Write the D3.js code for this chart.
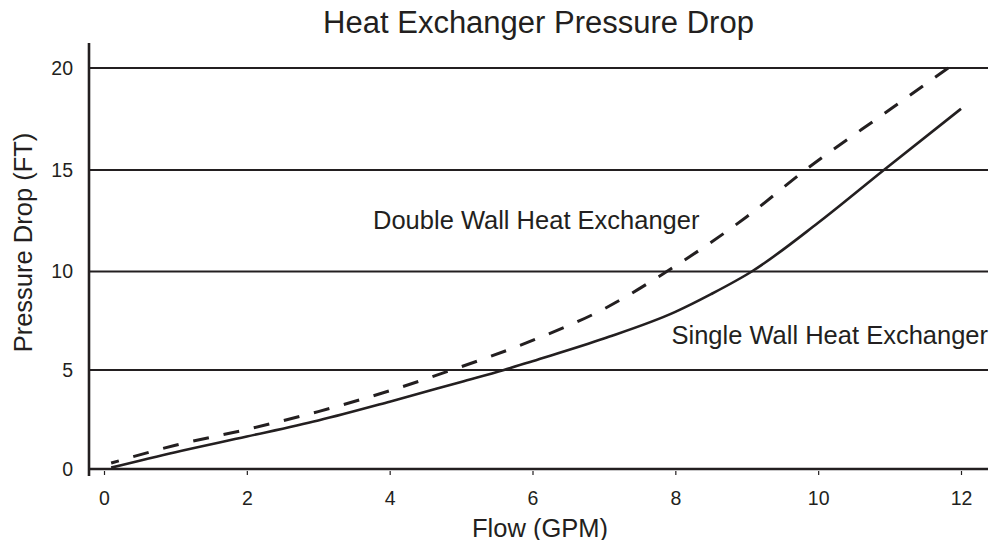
<!DOCTYPE html>
<html>
<head>
<meta charset="utf-8">
<script src="https://cdn.jsdelivr.net/npm/d3@7/dist/d3.min.js"></script>
<style>
  html, body { margin: 0; padding: 0; background: #fff; }
  svg { display: block; }
  text { font-family: "Liberation Sans", Arial, Helvetica, sans-serif; fill: #231f20; }
</style>
</head>
<body>
<svg id="chart" width="1001" height="540"></svg>
<script>
// ---- data ----
const xTicks = [0, 2, 4, 6, 8, 10, 12];
const yTicks = [0, 5, 10, 15, 20];
const gridValues = [5, 10, 15, 20];

const singleFlow = [0.1, 1, 2, 3, 4, 5, 5.6, 6, 7, 8, 8.5, 9.07, 10, 10.92, 12];
const singleDrop = [0.07, 0.85, 1.64, 2.45, 3.4, 4.4, 5.0, 5.45, 6.6, 7.95, 8.85, 10.0, 12.4, 15.0, 18.0];

const doubleFlow = [0.1, 1, 2, 3, 4, 4.87, 6, 7, 7.88, 9, 9.82, 11, 11.88];
const doubleDrop = [0.3, 1.2, 2.0, 2.9, 3.95, 5.0, 6.5, 8.1, 10.0, 12.7, 15.0, 17.95, 20.15];

const titleText = "Heat Exchanger Pressure Drop";
const xLabel = "Flow (GPM)";
const yLabel = "Pressure Drop (FT)";
const doubleLabel = "Double Wall Heat Exchanger";
const singleLabel = "Single Wall Heat Exchanger";

// ---- layout ----
const ink = "#231f20";
const svg = d3.select("#chart");
const x = d3.scaleLinear().domain([0, 12]).range([104, 961]);
const y = d3.scaleLinear().domain([0, 5, 10, 15, 20]).range([469, 370, 271.5, 170, 68]);
const axisLeftX = 89, axisRightX = 988;

// gridlines
svg.append("g").selectAll("line").data(gridValues).join("line")
  .attr("x1", axisLeftX).attr("x2", axisRightX)
  .attr("y1", d => y(d)).attr("y2", d => y(d))
  .attr("stroke", ink).attr("stroke-width", 2.2);

// x axis via d3.axisBottom
const xAxis = svg.append("g").attr("transform", `translate(0,${y(0)})`)
  .call(d3.axisBottom(x).tickValues(xTicks).tickSize(6).tickPadding(16).tickFormat(d3.format("d")));
xAxis.select(".domain").remove();
xAxis.selectAll(".tick line").attr("stroke", ink).attr("stroke-width", 1.2).attr("y1", 2);
xAxis.selectAll(".tick text").attr("font-size", 19.5).attr("fill", ink)
  .style("font-family", '"Liberation Sans", Arial, sans-serif');

// y axis labels via d3.axisLeft
const yAxis = svg.append("g").attr("transform", `translate(${axisLeftX},0)`)
  .call(d3.axisLeft(y).tickValues(yTicks).tickSize(0).tickPadding(16).tickFormat(d3.format("d")));
yAxis.select(".domain").remove();
yAxis.selectAll(".tick text").attr("font-size", 19.5).attr("fill", ink)
  .style("font-family", '"Liberation Sans", Arial, sans-serif');

// axis lines
svg.append("line").attr("x1", axisLeftX).attr("x2", axisRightX)
  .attr("y1", y(0)).attr("y2", y(0)).attr("stroke", ink).attr("stroke-width", 2.6);
svg.append("line").attr("x1", axisLeftX).attr("x2", axisLeftX)
  .attr("y1", 43).attr("y2", 476).attr("stroke", ink).attr("stroke-width", 2.6);

// curves
const line = d3.line().x(d => x(d[0])).y(d => y(d[1])).curve(d3.curveMonotoneX);
const singleData = singleFlow.map((f, i) => [f, singleDrop[i]]);
const doubleData = doubleFlow.map((f, i) => [f, doubleDrop[i]]);

svg.append("path").datum(singleData).attr("d", line)
  .attr("fill", "none").attr("stroke", ink).attr("stroke-width", 2.6);
svg.append("path").datum(doubleData).attr("d", line)
  .attr("fill", "none").attr("stroke", ink).attr("stroke-width", 3)
  .attr("stroke-dasharray", "16,15").attr("stroke-dashoffset", 8);

// texts
svg.append("text").attr("x", 538.5).attr("y", 32.5).attr("text-anchor", "middle")
  .attr("font-size", 31).text(titleText);
svg.append("text").attr("x", 540).attr("y", 536.5).attr("text-anchor", "middle")
  .attr("font-size", 25.5).text(xLabel);
svg.append("text").attr("transform", "translate(32,242.5) rotate(-90)")
  .attr("text-anchor", "middle").attr("font-size", 25.5).text(yLabel);
svg.append("text").attr("x", 373).attr("y", 228.5)
  .attr("font-size", 25.5).text(doubleLabel);
svg.append("text").attr("x", 671.5).attr("y", 344)
  .attr("font-size", 25.5).text(singleLabel);
</script>
</body>
</html>
